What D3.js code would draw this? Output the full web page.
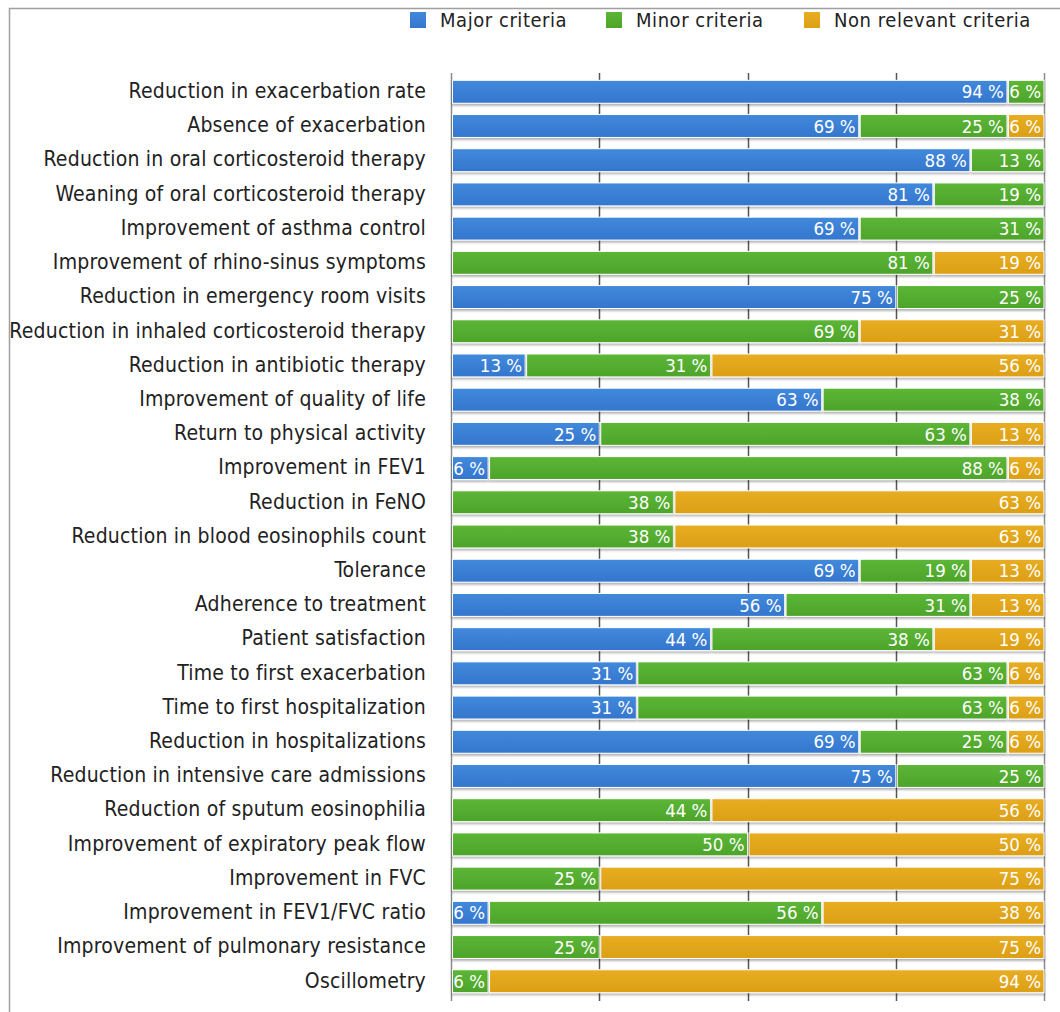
<!DOCTYPE html>
<html>
<head>
<meta charset="utf-8">
<script src="https://cdn.jsdelivr.net/npm/d3@7"></script>
<style>
  html, body { margin: 0; padding: 0; background: #fff; }
  svg { display: block; }
  text { font-family: "DejaVu Sans Condensed", "DejaVu Sans", sans-serif; }
</style>
</head>
<body>
<svg id="chart" width="1060" height="1012"></svg>
<script>
// Number of respondents (percentages are counts out of 16)
const total = 16;
const categories = [
  "Reduction in exacerbation rate",
  "Absence of exacerbation",
  "Reduction in oral corticosteroid therapy",
  "Weaning of oral corticosteroid therapy",
  "Improvement of asthma control",
  "Improvement of rhino-sinus symptoms",
  "Reduction in emergency room visits",
  "Reduction in inhaled corticosteroid therapy",
  "Reduction in antibiotic therapy",
  "Improvement of quality of life",
  "Return to physical activity",
  "Improvement in FEV1",
  "Reduction in FeNO",
  "Reduction in blood eosinophils count",
  "Tolerance",
  "Adherence to treatment",
  "Patient satisfaction",
  "Time to first exacerbation",
  "Time to first hospitalization",
  "Reduction in hospitalizations",
  "Reduction in intensive care admissions",
  "Reduction of sputum eosinophilia",
  "Improvement of expiratory peak flow",
  "Improvement in FVC",
  "Improvement in FEV1/FVC ratio",
  "Improvement of pulmonary resistance",
  "Oscillometry"
];
const majorCounts    = [15, 11, 14, 13, 11, 0, 12, 0, 2, 10, 4, 1, 0, 0, 11, 9, 7, 5, 5, 11, 12, 0, 0, 0, 1, 0, 0];
const minorCounts    = [1, 4, 2, 3, 5, 13, 4, 11, 5, 6, 10, 14, 6, 6, 3, 5, 6, 10, 10, 4, 4, 7, 8, 4, 9, 4, 1];
const nonRelCounts   = [0, 1, 0, 0, 0, 3, 0, 5, 9, 0, 2, 1, 10, 10, 2, 2, 3, 1, 1, 1, 0, 9, 8, 12, 6, 12, 15];
const seriesNames = ["Major criteria", "Minor criteria", "Non relevant criteria"];
const xTicks = [0, 25, 50, 75, 100];

const colorsLight = ["#4189db", "#5cb636", "#e8ad22"];
const colorsDark = ["#3476ce", "#4da42a", "#dc9f16"];

const svg = d3.select("#chart");
const defs = svg.append("defs");
colorsLight.forEach((c, i) => {
  const g = defs.append("linearGradient").attr("id", "lg" + i)
    .attr("x1", 0).attr("y1", 0).attr("x2", 0).attr("y2", 1);
  g.append("stop").attr("offset", "0%").attr("stop-color", colorsLight[i]);
  g.append("stop").attr("offset", "100%").attr("stop-color", colorsDark[i]);
});
const f = defs.append("filter").attr("id", "shadow").attr("x", "-5%").attr("y", "-20%").attr("width", "110%").attr("height", "160%");
f.append("feDropShadow").attr("dx", 0).attr("dy", 2).attr("stdDeviation", 1.2)
  .attr("flood-color", "#000").attr("flood-opacity", 0.3);

// Frame
svg.append("path").attr("d", "M9.5,1012 L9.5,8.5 L1060,8.5")
  .attr("fill", "none").attr("stroke", "#a0a0a0").attr("stroke-width", 1.5);

const x = d3.scaleLinear().domain([0, 100]).range([451, 1044]);
const y = d3.scaleBand().domain(categories).range([74.5, 998.5]).paddingInner(0.33).paddingOuter(0.17);

// Gridlines / ticks
svg.append("g").selectAll("line").data(xTicks).join("line")
  .attr("x1", d => Math.round(x(d)) + 0.5).attr("x2", d => Math.round(x(d)) + 0.5)
  .attr("y1", 73).attr("y2", 1001)
  .attr("stroke", d => (d === 0 || d === 100) ? "#8a8a8a" : "#555")
  .attr("stroke-width", 1.5);

const rows = categories.map((c, i) => {
  const vals = [majorCounts[i], minorCounts[i], nonRelCounts[i]].map(v => v / total * 100);
  let acc = 0;
  return vals.map((v, k) => { const s = { cat: c, k, v, x0: acc, x1: acc + v }; acc += v; return s; });
});

const segs = rows.flat().filter(d => d.v > 0);

const gBars = svg.append("g");
gBars.selectAll("rect").data(segs).join("rect")
  .attr("x", d => x(d.x0) + 1.5)
  .attr("width", d => x(d.x1) - x(d.x0) - 1.5)
  .attr("y", d => y(d.cat))
  .attr("height", y.bandwidth())
  .attr("fill", d => `url(#lg${d.k})`)
  .attr("stroke", "#fff").attr("stroke-width", 1)
  .attr("filter", "url(#shadow)");

gBars.selectAll("text").data(segs).join("text")
  .attr("x", d => x(d.x1) - 3)
  .attr("y", d => y(d.cat) + y.bandwidth() / 2)
  .attr("dy", "0.36em")
  .attr("text-anchor", "end")
  .attr("fill", "#fff")
  .attr("font-size", 18.5)
  .text(d => Math.round(d.v) + " %");

// Category labels
svg.append("g").selectAll("text").data(categories).join("text")
  .attr("x", 426)
  .attr("y", d => y(d) + y.bandwidth() / 2)
  .attr("dy", "0.3em")
  .attr("text-anchor", "end")
  .attr("fill", "#222")
  .attr("font-size", 21)
  .attr("letter-spacing", 0.2)
  .text(d => d);

// Legend
const legendX = [410, 606, 804];
const lg = svg.append("g");
seriesNames.forEach((n, i) => {
  lg.append("rect").attr("x", legendX[i]).attr("y", 12).attr("width", 16).attr("height", 16)
    .attr("fill", `url(#lg${i})`);
  lg.append("text").attr("x", legendX[i] + 30).attr("y", 27)
    .attr("font-size", 20).attr("letter-spacing", 0.55).attr("fill", "#222").text(n);
});
</script>
</body>
</html>
